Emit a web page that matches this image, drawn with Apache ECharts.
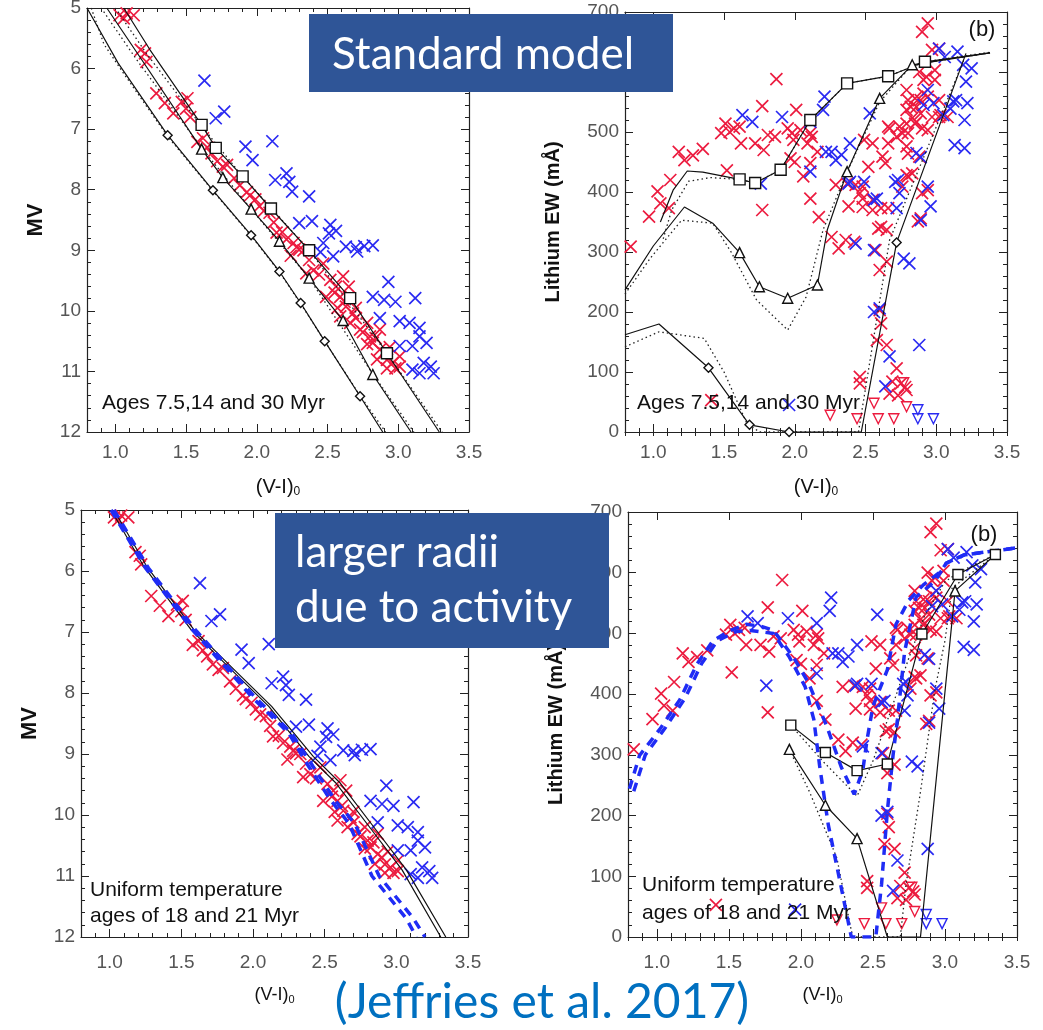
<!DOCTYPE html>
<html>
<head>
<meta charset="utf-8">
<script src="https://cdn.jsdelivr.net/npm/echarts@6/dist/echarts.min.js"></script>
<style>
  html, body { margin: 0; padding: 0; background: #fff; }
  #chart { width: 1043px; height: 1030px; }
</style>
</head>
<body>
<div id="chart"></div>
<script>
// ---------- observed stars: colour (V-I)0 vs MV ----------
var cmdRed = [
  [1.03,5.12],[1.08,5.09],[1.13,5.12],[1.06,5.17],[1.18,5.69],[1.21,5.75],[1.22,5.89],[1.29,6.41],
  [1.35,6.57],[1.41,6.74],[1.51,6.49],[1.50,6.66],[1.53,6.80],[1.47,6.55],[1.58,7.21],[1.62,7.15],
  [1.65,7.30],[1.68,7.40],[1.72,7.53],[1.76,7.62],[1.79,7.59],[1.84,7.81],[1.88,7.93],[1.93,8.04],
  [1.95,8.10],[1.99,8.16],[2.02,8.27],[2.05,8.35],[2.09,8.38],[2.12,8.54],[2.14,8.71],[2.18,8.70],
  [2.21,8.82],[2.26,8.88],[2.28,8.95],[2.30,8.99],[2.24,9.09],[2.33,9.00],[2.37,9.16],[2.40,9.33],
  [2.35,9.38],[2.44,9.40],[2.47,9.22],[2.52,9.49],[2.56,9.60],[2.61,9.43],[2.65,9.60],[2.59,9.77],
  [2.49,9.77],[2.55,9.70],[2.63,9.93],[2.62,9.85],[2.57,9.95],[2.70,9.95],[2.68,10.04],[2.59,10.09],
  [2.70,10.12],[2.66,10.20],[2.78,10.20],[2.73,10.31],[2.87,10.31],[2.75,10.35],[2.80,10.42],[2.84,10.45],
  [2.82,10.53],[2.78,10.55],[2.94,10.60],[2.87,10.64],[2.90,10.70],[3.01,10.75],[2.85,10.80],[2.92,10.81],
  [2.96,10.86],[3.01,10.92],[2.98,10.95],[2.92,10.95]
];
var cmdBlue = [
  [1.63,6.20],[1.77,6.71],[1.71,6.82],[2.11,7.20],[1.92,7.29],[1.97,7.51],[2.21,7.73],[2.13,7.84],
  [2.23,7.87],[2.25,8.03],[2.37,8.11],[2.30,8.55],[2.39,8.52],[2.52,8.58],[2.51,8.72],[2.56,8.68],
  [2.47,8.88],[2.45,9.03],[2.63,8.94],[2.70,8.95],[2.76,8.93],[2.82,8.92],[2.71,9.02],[2.54,9.10],
  [2.93,9.52],[2.82,9.77],[2.90,9.82],[2.98,9.85],[3.12,9.79],[2.87,10.12],[3.01,10.17],[3.08,10.20],
  [3.15,10.28],[3.20,10.53],[3.15,10.42],[3.10,10.58],[3.01,10.58],[3.18,10.86],[3.23,10.92],[3.25,11.03],
  [3.15,11.03],[3.10,10.97]
];

// ---------- observed stars: colour vs lithium EW (mA) ----------
var liRed = [
  [0.84,309],[0.97,359],[1.03,401],[1.05,381],[1.11,373],[1.12,420],[1.18,467],[1.22,453],[1.28,461],
  [1.35,472],[1.41,53],[1.48,498],[1.51,514],[1.52,436],[1.54,500],[1.57,506],[1.61,509],[1.62,481],
  [1.72,481],[1.77,543],[1.77,370],[1.78,470],[1.81,495],[1.86,492],[1.87,588],[1.95,506],[1.97,456],
  [1.98,498],[1.99,487],[2.00,450],[2.01,537],[2.04,503],[2.06,426],[2.09,481],[2.11,498],[2.12,492],
  [2.11,448],[2.11,389],[2.16,467],[2.17,358],[2.26,325],[2.29,412],[2.31,306],[2.36,320],[2.37,414],
  [2.38,376],[2.42,317],[2.43,412],[2.46,398],[2.48,409],[2.48,389],[2.48,375],[2.49,487],[2.52,442],
  [2.55,481],[2.55,387],[2.55,370],[2.57,303],[2.59,339],[2.60,270],[2.61,373],[2.61,342],[2.62,459],
  [2.64,448],[2.65,337],[2.65,284],[2.66,509],[2.66,481],[2.66,373],[2.67,506],[2.72,492],[2.74,509],
  [2.76,498],[2.76,409],[2.79,570],[2.79,537],[2.79,514],[2.79,476],[2.79,428],[2.80,498],[2.80,464],
  [2.80,553],[2.80,426],[2.82,542],[2.83,523],[2.83,431],[2.85,514],[2.85,556],[2.86,517],[2.86,542],
  [2.87,351],[2.88,600],[2.88,459],[2.89,531],[2.89,553],[2.89,356],[2.90,667],[2.90,506],[2.90,398],
  [2.91,587],[2.91,564],[2.93,592],[2.94,681],[2.94,559],[2.94,503],[2.94,403],[2.97,637],[2.97,525],
  [2.99,603],[2.99,587],[3.02,639],[3.02,553],[3.02,525],[3.03,528],[3.08,525],
  [2.60,203],[2.61,181],[2.58,153],[2.65,145],[2.72,106],[2.46,92],[2.46,81],[2.67,64],[2.69,84],
  [2.73,61],[2.75,81],[2.78,75],[2.79,70]
];
var liBlue = [
  [1.63,528],[1.70,517],[1.76,414],[1.91,525],[1.96,45],[2.11,517],[2.11,434],[2.20,537],[2.21,559],
  [2.22,467],[2.26,467],[2.29,453],[2.33,462],[2.38,414],[2.39,481],[2.39,417],[2.43,314],[2.49,417],
  [2.53,531],[2.56,387],[2.56,303],[2.56,200],[2.58,389],[2.60,206],[2.64,76],[2.67,126],[2.71,417],
  [2.72,373],[2.73,420],[2.74,398],[2.77,289],[2.81,281],[2.86,465],[2.88,145],[2.89,458],[2.89,353],
  [2.91,545],[2.94,570],[2.94,409],[2.96,376],[2.98,548],[3.02,639],[3.05,528],[3.06,625],[3.10,539],
  [3.12,551],[3.13,478],[3.14,553],[3.15,634],[3.19,612],[3.20,520],[3.20,473],[3.21,584],[3.22,548],
  [3.25,606]
];
var liRedLimit = [[2.25,28],[2.44,22],[2.56,48],[2.59,22],[2.70,22],[2.77,82],[2.79,42]];
var liBlueLimit = [[2.87,37],[2.87,22],[2.98,22]];

// ---------- standard model isochrones (7.5, 14, 30 Myr) ----------
var iso30 = [[0.80,5.0],[1.02,5.91],[1.37,7.10],[1.69,8.01],[1.96,8.75],[2.16,9.35],[2.31,9.87],[2.48,10.50],[2.73,11.41],[2.89,12.0]];
var iso30Dot = [[0.83,5.0],[0.92,5.6],[1.05,6.05],[1.37,7.12],[1.69,8.02],[1.96,8.76],[2.16,9.36],[2.31,9.88],[2.48,10.5],[2.73,11.4],[2.91,12.0]];
var iso30Marks = [[1.37,7.10],[1.69,8.01],[1.96,8.75],[2.16,9.35],[2.31,9.87],[2.48,10.50],[2.73,11.41]];
var iso14 = [[0.94,5.0],[1.20,5.90],[1.61,7.33],[1.76,7.80],[1.96,8.32],[2.16,8.85],[2.37,9.46],[2.61,10.16],[2.82,11.05],[3.09,12.0]];
var iso14Dot = [[0.90,5.0],[1.15,5.85],[1.61,7.31],[1.96,8.32],[2.37,9.46],[2.82,11.04],[3.11,12.0]];
var iso14Marks = [[1.61,7.33],[1.76,7.80],[1.96,8.32],[2.16,8.85],[2.37,9.46],[2.61,10.16],[2.82,11.05]];
var iso75 = [[1.06,5.0],[1.245,5.69],[1.61,6.93],[1.71,7.31],[1.90,7.78],[2.10,8.31],[2.37,9.0],[2.66,9.79],[2.92,10.70],[3.29,12.0]];
var iso75Dot = [[1.00,5.0],[1.22,5.75],[1.61,6.95],[1.90,7.78],[2.37,9.0],[2.92,10.70],[3.31,12.0]];
var iso75Marks = [[1.61,6.93],[1.71,7.31],[1.90,7.78],[2.10,8.31],[2.37,9.0],[2.66,9.79],[2.92,10.70]];

// ---------- standard model lithium curves ----------
var li75 = [[1.05,350],[1.14,403],[1.24,435],[1.35,433],[1.61,421],[1.72,415],[1.90,437],[2.11,520],[2.37,581],[2.66,593],[2.92,617],[3.38,632]];
var li75Dot = [[1.07,322],[1.13,370],[1.25,418],[1.40,424],[1.61,421],[1.72,415],[1.90,437],[2.11,520],[2.37,581],[2.66,593],[2.92,617],[3.38,633]];
var li75Marks = [[1.61,421],[1.72,415],[1.90,437],[2.11,520],[2.37,581],[2.66,593],[2.92,617]];
var li14 = [[0.80,237],[1.00,310],[1.22,375],[1.42,348],[1.61,299],[1.75,242],[1.95,223],[2.16,245],[2.23,337],[2.37,434],[2.60,556],[2.83,612],[3.38,632]];
var li14Dot = [[0.80,230],[0.98,290],[1.20,353],[1.42,348],[1.55,300],[1.73,220],[1.95,170],[2.08,225],[2.20,337],[2.37,434],[2.60,550],[2.83,612],[3.38,632]];
var li14Marks = [[1.61,299],[1.75,242],[1.95,223],[2.16,245],[2.37,434],[2.60,556],[2.83,612]];
var li30 = [[0.80,162],[1.04,180],[1.39,107],[1.68,12],[1.96,0],[2.47,0],[2.72,316],[3.21,631]];
var li30Dot = [[0.80,142],[1.04,167],[1.36,156],[1.50,100],[1.66,15],[1.75,0],[2.45,0],[2.67,320],[3.20,623]];
var li30Marks = [[1.39,107],[1.68,12],[1.96,0],[2.72,316]];

// ---------- uniform temperature models (18, 21 Myr) ----------
var isoU18 = [[1.01,5.0],[1.24,5.93],[1.57,6.97],[1.85,7.62],[2.11,8.22],[2.39,9.04],[2.58,9.48],[2.83,10.25],[3.04,10.90],[3.31,12.0]];
var isoU21 = [[1.03,5.0],[1.26,5.93],[1.59,6.97],[1.87,7.62],[2.13,8.22],[2.42,9.04],[2.61,9.48],[2.86,10.25],[3.07,10.90],[3.345,12.0]];
var isoS18 = [[1.01,5.0],[1.25,5.95],[1.58,6.97],[1.99,8.06],[2.25,8.66],[2.39,9.21],[2.54,9.75],[2.67,10.14],[2.83,11.0],[3.07,11.7],[3.14,12.0]];
var isoS21 = [[1.03,5.0],[1.27,5.95],[1.60,6.97],[2.01,8.06],[2.27,8.66],[2.42,9.21],[2.57,9.75],[2.71,10.14],[2.88,11.0],[3.12,11.7],[3.20,12.0]];

var liU18 = [[1.93,349],[2.17,304],[2.39,274],[2.60,285],[2.84,499],[3.09,597],[3.35,630]];
var liU18Dot = [[1.93,349],[2.15,290],[2.39,232],[2.50,290],[2.62,370],[2.75,460],[2.86,530],[3.00,585],[3.09,600],[3.35,630]];
var liU18Marks = [[1.93,349],[2.17,304],[2.39,274],[2.60,285],[2.84,499],[3.09,597],[3.35,630]];
var liU21 = [[1.92,309],[2.17,217],[2.39,162],[2.60,0],[2.83,0],[3.07,570],[3.35,630]];
var liU21Dot = [[1.92,309],[2.06,239],[2.25,130],[2.34,22],[2.36,0],[2.69,0],[2.73,87],[2.83,239],[2.93,407],[3.00,488],[3.05,575],[3.35,630]];
var liU21Marks = [[1.92,309],[2.17,217],[2.39,162],[3.07,570]];
var liS18 = [[0.81,244],[0.88,299],[1.02,342],[1.16,391],[1.28,450],[1.39,488],[1.51,505],[1.62,515],[1.72,512],[1.81,505],[1.95,460],[2.05,420],[2.18,347],[2.28,280],[2.37,235],[2.43,275],[2.46,326],[2.50,380],[2.60,440],[2.66,515],[2.75,555],[2.85,580],[2.97,602],[3.01,616],[3.13,629],[3.31,635],[3.50,641]];
var liS21 = [[0.84,240],[0.92,300],[1.06,345],[1.20,395],[1.31,450],[1.42,488],[1.55,503],[1.65,505],[1.81,500],[1.92,461],[2.03,412],[2.09,358],[2.13,282],[2.19,185],[2.27,93],[2.35,0],[2.52,0],[2.56,87],[2.60,207],[2.64,300],[2.67,358],[2.72,470],[2.80,560],[2.93,586],[3.01,616],[3.13,629],[3.31,635],[3.50,641]];

var xMajor = [1.0, 1.5, 2.0, 2.5, 3.0, 3.5];

var RED = '#ec1b3f';
var BLUE = '#2a2af2';
var CROSS = 'path://M0,0L10,10M10,0L0,10';
var AX = '#222';
var LBL = '#555';
var FONT = 'Liberation Sans, Arial, sans-serif';

var myChart = echarts.init(document.getElementById('chart'), null, {renderer: 'canvas'});

var grids = [
  {left: 87, top: 8, width: 382, height: 424},
  {left: 625, top: 12, width: 382, height: 420},
  {left: 81, top: 510, width: 387, height: 427},
  {left: 628, top: 512, width: 389, height: 425}
];

function xAxes(g, labelMargin, nameGap, nameSize) {
  var base = {gridIndex: g, type: 'value', min: 0.8, max: 3.5, splitLine: {show: false}};
  return [
    Object.assign({}, base, {
      position: 'bottom',
      axisLine: {show: true, onZero: false, lineStyle: {color: AX, width: 1.2}},
      axisTick: {show: true, inside: true, length: 8, customValues: xMajor, lineStyle: {color: AX}},
      axisLabel: {show: true, customValues: xMajor, margin: labelMargin, color: LBL, fontSize: 19, fontFamily: FONT,
        formatter: function (v) { return v.toFixed(1); }},
      name: '{m|(V-I)}{s|0}', nameLocation: 'middle', nameGap: nameGap,
      nameTextStyle: {rich: {
        m: {fontSize: nameSize, color: '#111', fontFamily: FONT},
        s: {fontSize: Math.round(nameSize * 0.6), color: '#111', fontFamily: FONT, padding: [Math.round(nameSize * 0.45), 0, 0, 0]}
      }}
    }),
    Object.assign({}, base, {
      position: 'bottom', interval: 0.1,
      axisLine: {show: false},
      axisTick: {show: true, inside: true, length: 4, lineStyle: {color: AX}},
      axisLabel: {show: false}
    }),
    Object.assign({}, base, {
      position: 'top',
      axisLine: {show: true, onZero: false, lineStyle: {color: AX, width: 1.2}},
      axisTick: {show: true, inside: true, length: 8, customValues: xMajor, lineStyle: {color: AX}},
      axisLabel: {show: false}
    }),
    Object.assign({}, base, {
      position: 'top', interval: 0.1,
      axisLine: {show: false},
      axisTick: {show: true, inside: true, length: 4, lineStyle: {color: AX}},
      axisLabel: {show: false}
    })
  ];
}

function yAxes(g, min, max, interval, inverse, name, nameGap, nameSize) {
  var base = {
    gridIndex: g, type: 'value', min: min, max: max, interval: interval, inverse: inverse,
    splitLine: {show: false}, minorSplitLine: {show: false},
    axisLine: {show: true, onZero: false, lineStyle: {color: AX, width: 1.2}},
    axisTick: {show: true, inside: true, length: 8, lineStyle: {color: AX}},
    minorTick: {show: true, splitNumber: 5, length: 4, lineStyle: {color: AX}}
  };
  return [
    Object.assign({}, base, {
      position: 'left',
      axisLabel: {show: true, margin: 6, color: LBL, fontSize: 19, fontFamily: FONT},
      name: name, nameLocation: 'middle', nameGap: nameGap, nameRotate: 90,
      nameTextStyle: {fontSize: nameSize, fontWeight: 'bold', color: '#111', fontFamily: FONT}
    }),
    Object.assign({}, base, {position: 'right', axisLabel: {show: false}})
  ];
}

function crosses(g, data, color) {
  return {type: 'scatter', xAxisIndex: g * 4, yAxisIndex: g * 2, data: data, symbol: CROSS, symbolSize: 12,
    itemStyle: {color: 'none', borderColor: color, borderWidth: 1.7, opacity: 1}, silent: true, z: 2};
}
function limits(g, data, color) {
  return {type: 'scatter', xAxisIndex: g * 4, yAxisIndex: g * 2, data: data, symbol: 'triangle', symbolRotate: 180,
    symbolSize: 10, itemStyle: {color: 'none', borderColor: color, borderWidth: 1.4, opacity: 1}, silent: true, z: 2};
}
function curve(g, data, kind) {
  var ls = {color: '#111', width: 1.2, type: 'solid'};
  if (kind === 'dot') ls = {color: '#222', width: 1.3, type: [1.5, 3]};
  if (kind === 'blue') ls = {color: '#1f2cf5', width: 3.5, type: [9, 7]};
  return {type: 'line', xAxisIndex: g * 4, yAxisIndex: g * 2, data: data, showSymbol: false, symbol: 'none',
    lineStyle: ls, silent: true, z: kind === 'blue' ? 4 : 3};
}
function marks(g, data, symbol, size) {
  return {type: 'scatter', xAxisIndex: g * 4, yAxisIndex: g * 2, data: data, symbol: symbol, symbolSize: size,
    itemStyle: {color: '#fff', borderColor: '#111', borderWidth: 1.4, opacity: 1}, silent: true, z: 5};
}

var series = [
  // top left
  crosses(0, cmdRed, RED), crosses(0, cmdBlue, BLUE),
  curve(0, iso30Dot, 'dot'), curve(0, iso14Dot, 'dot'), curve(0, iso75Dot, 'dot'),
  curve(0, iso30), curve(0, iso14), curve(0, iso75),
  marks(0, iso30Marks, 'diamond', 9), marks(0, iso14Marks, 'triangle', 10), marks(0, iso75Marks, 'rect', 11),
  // top right
  crosses(1, liRed, RED), crosses(1, liBlue, BLUE), limits(1, liRedLimit, RED), limits(1, liBlueLimit, BLUE),
  curve(1, li30Dot, 'dot'), curve(1, li14Dot, 'dot'), curve(1, li75Dot, 'dot'),
  curve(1, li30), curve(1, li14), curve(1, li75),
  marks(1, li30Marks, 'diamond', 9), marks(1, li14Marks, 'triangle', 10), marks(1, li75Marks, 'rect', 11),
  // bottom left
  crosses(2, cmdRed, RED), crosses(2, cmdBlue, BLUE),
  curve(2, isoS18, 'blue'), curve(2, isoS21, 'blue'),
  curve(2, isoU18), curve(2, isoU21),
  // bottom right
  crosses(3, liRed, RED), crosses(3, liBlue, BLUE), limits(3, liRedLimit, RED), limits(3, liBlueLimit, BLUE),
  curve(3, liS18, 'blue'), curve(3, liS21, 'blue'),
  curve(3, liU18Dot, 'dot'), curve(3, liU21Dot, 'dot'),
  curve(3, liU18), curve(3, liU21),
  marks(3, liU18Marks, 'rect', 10), marks(3, liU21Marks, 'triangle', 10)
];

function label(x, y, text, size, align) {
  return {type: 'text', x: x, y: y, z: 100,
    style: {text: text, fill: '#111', fontSize: size, fontFamily: FONT, align: align || 'left', verticalAlign: 'middle'}};
}

var option = {
  backgroundColor: '#ffffff',
  animation: false,
  grid: grids.map(function (g) { return Object.assign({outerBoundsMode: 'none', containLabel: false}, g); }),
  xAxis: [].concat(xAxes(0, 11, 45, 20), xAxes(1, 11, 45, 20), xAxes(2, 16, 49, 18), xAxes(3, 16, 49, 18)),
  yAxis: [].concat(
    yAxes(0, 5, 12, 1, true, 'MV', 40, 22),
    yAxes(1, 0, 700, 100, false, 'Lithium EW (mÅ)', 62, 20),
    yAxes(2, 5, 12, 1, true, 'MV', 40, 22),
    yAxes(3, 0, 700, 100, false, 'Lithium EW (mÅ)', 62, 20)
  ),
  series: series,
  graphic: [
    label(102, 403, 'Ages 7.5,14 and 30 Myr', 21),
    label(637, 403, 'Ages 7.5,14 and 30 Myr', 21),
    label(90, 890, 'Uniform temperature', 21),
    label(90, 916, 'ages of 18 and 21 Myr', 21),
    label(642, 885, 'Uniform temperature', 21),
    label(642, 913, 'ages of 18 and 21 Myr', 21),
    label(982, 30, '(b)', 22, 'center'),
    label(984, 535, '(b)', 22, 'center'),
    {type: 'rect', z: 110, shape: {x: 309, y: 14, width: 364, height: 78}, style: {fill: '#2f5597'}},
    {type: 'text', z: 111, x: 483, y: 55,
      style: {text: 'Standard model', fill: '#fff', fontSize: 44, fontFamily: 'Lato, sans-serif', align: 'center', verticalAlign: 'middle'}},
    {type: 'rect', z: 110, shape: {x: 275, y: 513, width: 334, height: 135}, style: {fill: '#2f5597'}},
    {type: 'text', z: 111, x: 295, y: 553,
      style: {text: 'larger radii', fill: '#fff', fontSize: 44, fontFamily: 'Lato, sans-serif', align: 'left', verticalAlign: 'middle'}},
    {type: 'text', z: 111, x: 295, y: 608,
      style: {text: 'due to activity', fill: '#fff', fontSize: 44, fontFamily: 'Lato, sans-serif', align: 'left', verticalAlign: 'middle'}},
    {type: 'text', z: 111, x: 542, y: 1003,
      style: {text: '(Jeffries et al. 2017)', fill: '#0070c0', fontSize: 48, fontFamily: 'Lato, sans-serif', align: 'center', verticalAlign: 'middle'}}
  ]
};

myChart.setOption(option);
</script>
</body>
</html>
